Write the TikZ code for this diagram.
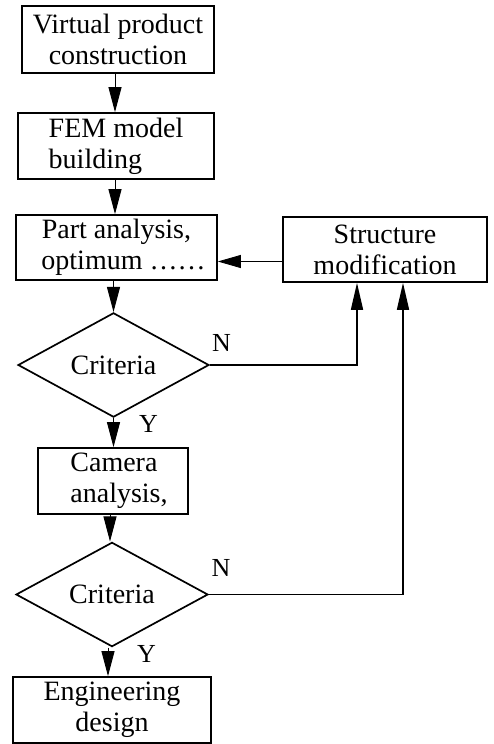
\documentclass[tikz,border=0pt]{standalone}
\usepackage{fontspec}
\setmainfont{Liberation Serif}
\usetikzlibrary{arrows.meta,shapes.geometric}
\begin{document}
\begin{tikzpicture}[x=1pt,y=-1pt,
  box/.style={draw, line width=1.7pt, inner sep=0pt, align=center, font=\fontsize{28}{31}\selectfont},
  dia/.style={diamond, draw, line width=1.7pt, inner sep=0pt, font=\fontsize{28}{31}\selectfont},
  arr/.style={line width=0.9pt, -{Triangle[length=25pt,width=13pt]}},
  fb/.style={line width=1.7pt, -{Triangle[length=27pt,width=12pt]}},
  lab/.style={font=\fontsize{26}{30}\selectfont, inner sep=0pt}]
\useasboundingbox (0,0) rectangle (493,744);
\node[box, minimum width=192pt, minimum height=67pt] (b1) at (118,39.5) {Virtual product\\construction};
\node[box, minimum width=196pt, minimum height=66pt, align=left] (b2) at (116,146) {FEM model\\building};
\node[box, minimum width=201pt, minimum height=65pt] (b3) at (116.5,247.5) {Part analysis,\\\hspace*{14pt}optimum \ldots\ldots};
\node[box, minimum width=204pt, minimum height=65pt] (s) at (385,249.5) {Structure\\modification};
\node[dia, minimum width=191pt, minimum height=82pt] (d1) at (113.5,365) {Criteria};
\node[box, minimum width=150pt, minimum height=66pt, align=left] (cam) at (113,481) {\hspace*{12pt}Camera\\\hspace*{12pt}analysis,};
\node[dia, minimum width=192pt, minimum height=83pt] (d2) at (112,594.5) {Criteria};
\node[box, minimum width=198pt, minimum height=66pt] (eng) at (112,710) {Engineering\\design};
\node[lab] (n1) at (221.5,342.5) {N};
\node[lab] (y1) at (148.5,424) {Y};
\node[lab] (n2) at (221,568) {N};
\node[lab] (y2) at (146.5,654) {Y};
\draw[arr] ([xshift=-3pt]b1.south) -- ([xshift=-3pt]b1.south |- b2.north);
\draw[arr] ([xshift=-1pt]b2.south) -- ([xshift=-1pt]b2.south |- b3.north);
\draw[arr] (d1.north |- b3.south) -- (d1.north);
\draw[arr] (d1.south) -- (d1.south |- cam.north);
\draw[arr] ([xshift=-2pt]d2.north |- cam.south) -- ([xshift=-2pt]d2.north);
\draw[arr] ([xshift=-4pt]d2.south) -- ([xshift=-4pt]d2.south |- eng.north);
\draw[line width=0.8pt, -{Triangle[length=23pt,width=13pt]}] ([yshift=-12pt]s.west) -- ([yshift=-12pt]s.west -| b3.east);
\draw[fb] (d1.east) -| ([xshift=-28pt]s.south);
\draw[fb] (d2.east) -| ([xshift=18pt]s.south);
\end{tikzpicture}
\end{document}
